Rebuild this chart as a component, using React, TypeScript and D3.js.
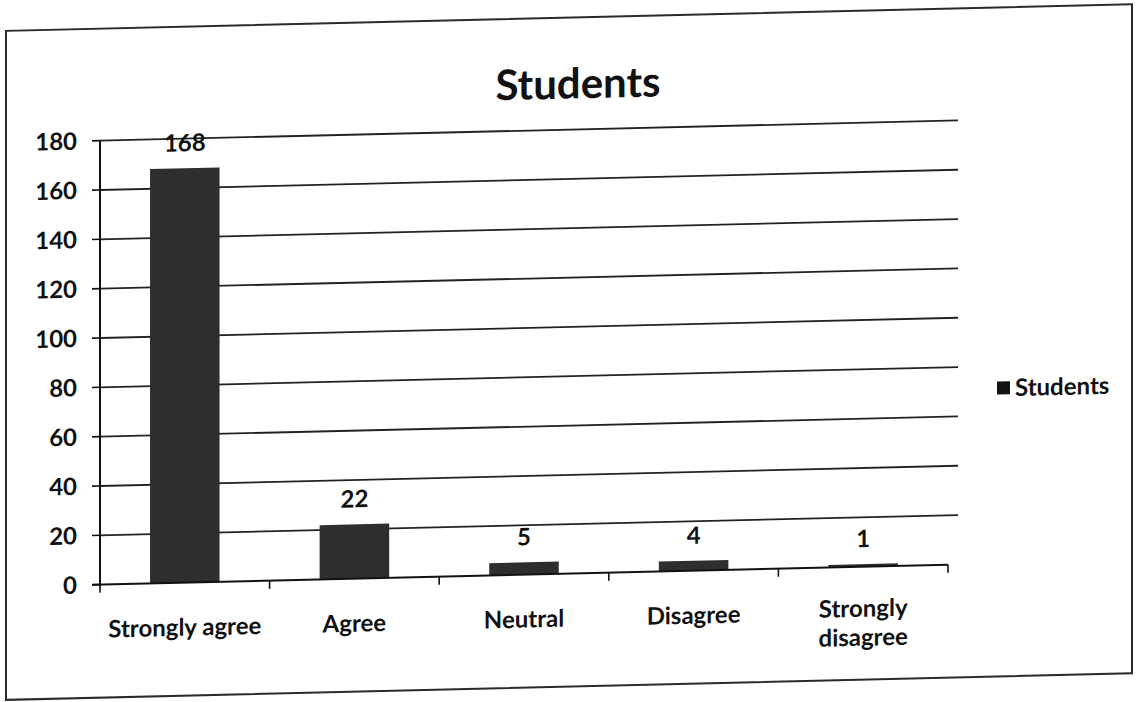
import React from "react";
import * as d3 from "d3";

const chartTitle = "Students";
const seriesName = "Students";
const categories = ["Strongly agree", "Agree", "Neutral", "Disagree", "Strongly disagree"];
const values = [168, 22, 5, 4, 1];
const yTicks = [0, 20, 40, 60, 80, 100, 120, 140, 160, 180];

const W = 1141;
const H = 702;
const FONT = "Lato, 'Open Sans', sans-serif";

export default function App() {
  const left = 100;
  const right = 948;
  const gridRight = 958;
  const y = d3.scaleLinear().domain([0, 180]).range([587, 143]);
  const x = d3
    .scaleBand<string>()
    .domain(categories)
    .range([left, right])
    .paddingInner(0.59)
    .paddingOuter(0.295);
  const step = x.step();
  const base = y(0);

  const wrap = (s: string) => (s === "Strongly disagree" ? ["Strongly", "disagree"] : [s]);

  return (
    <svg
      width={W}
      height={H}
      style={{ position: "absolute", left: 0, top: 0, background: "#fff" }}
      fontFamily={FONT}
    >
      <rect x={0} y={0} width={W} height={H} fill="#fff" />
      <g transform="skewY(-1.35)">
        {/* outer frame */}
        <rect x={6} y={31} width={1126} height={669} fill="none" stroke="#2a2a2a" strokeWidth={2} />

        {/* title */}
        <text x={578} y={112} textAnchor="middle" fontSize={42} fontWeight={700} fill="#111">
          {chartTitle}
        </text>

        {/* gridlines */}
        {yTicks.filter((t) => t > 0).map((t) => (
          <line key={"g" + t} x1={left} x2={gridRight} y1={y(t)} y2={y(t)} stroke="#222" strokeWidth={1.8} />
        ))}

        {/* bars */}
        {categories.map((c, i) => (
          <rect
            key={"b" + c}
            x={x(c)}
            y={y(values[i])}
            width={x.bandwidth()}
            height={base - y(values[i])}
            fill="#2e2f2d"
          />
        ))}

        {/* y axis */}
        <line x1={left} x2={left} y1={y(180)} y2={base + 2} stroke="#111" strokeWidth={2} />
        {yTicks.map((t) => (
          <g key={"yt" + t}>
            <line x1={left - 8} x2={left} y1={y(t)} y2={y(t)} stroke="#111" strokeWidth={1.6} />
            <text x={77} y={y(t)} dy="0.35em" textAnchor="end" fontSize={24} fontWeight={700} fill="#111">
              {t}
            </text>
          </g>
        ))}

        {/* x axis */}
        <line x1={left - 8} x2={right} y1={base} y2={base} stroke="#111" strokeWidth={2} />
        {d3.range(categories.length + 1).map((i) => (
          <line
            key={"xt" + i}
            x1={left + i * step}
            x2={left + i * step}
            y1={base}
            y2={base + 8}
            stroke="#111"
            strokeWidth={1.6}
          />
        ))}

        {/* data labels */}
        {categories.map((c, i) => (
          <text
            key={"dl" + c}
            x={(x(c) as number) + x.bandwidth() / 2}
            y={y(values[i]) - 17}
            textAnchor="middle"
            fontSize={24}
            fontWeight={700}
            fill="#111"
          >
            {values[i]}
          </text>
        ))}

        {/* category labels */}
        {categories.map((c) => (
          <text
            key={"cl" + c}
            x={(x(c) as number) + x.bandwidth() / 2}
            y={wrap(c).length > 1 ? 637 : 640}
            textAnchor="middle"
            fontSize={24}
            fontWeight={700}
            fill="#111"
          >
            {wrap(c).map((line, j) => (
              <tspan key={j} x={(x(c) as number) + x.bandwidth() / 2} dy={j === 0 ? 0 : 29}>
                {line}
              </tspan>
            ))}
          </text>
        ))}

        {/* legend */}
        <rect x={997} y={405} width={13} height={13} fill="#111" />
        <text x={1015} y={420} fontSize={24} fontWeight={700} fill="#111">
          {seriesName}
        </text>
      </g>
    </svg>
  );
}
